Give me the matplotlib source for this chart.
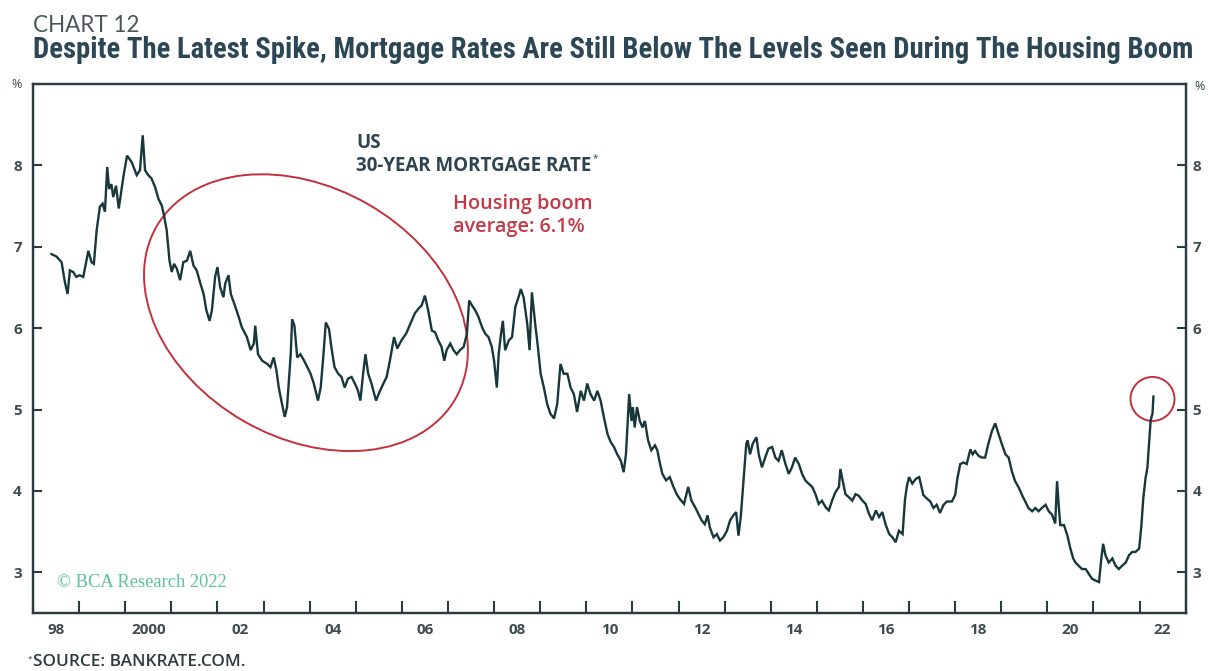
import matplotlib
matplotlib.use("Agg")
import matplotlib.pyplot as plt
import numpy as np
from matplotlib import font_manager
from matplotlib.patches import Ellipse
from matplotlib.transforms import ScaledTranslation

# US 30-year mortgage rate (%), decimal years
years_a = [1998.40, 1998.51, 1998.62, 1998.69, 1998.75, 1998.80, 1998.87, 1998.94, 1999.01, 1999.09,
           1999.16, 1999.20, 1999.27, 1999.32, 1999.38, 1999.45, 1999.51, 1999.56, 1999.61, 1999.65,
           1999.70, 1999.74, 1999.80, 1999.86, 1999.96, 2000.04, 2000.14, 2000.25, 2000.32, 2000.38,
           2000.43, 2000.50, 2000.57, 2000.65, 2000.72, 2000.79, 2000.84, 2000.90, 2000.96, 2001.01,
           2001.06, 2001.12, 2001.19, 2001.26, 2001.34, 2001.41, 2001.48, 2001.55, 2001.63, 2001.70,
           2001.76, 2001.83, 2001.88, 2001.95, 2002.00, 2002.06, 2002.13, 2002.17, 2002.24, 2002.29,
           2002.39, 2002.46, 2002.53, 2002.64, 2002.72, 2002.79, 2002.82, 2002.88, 2002.97, 2003.08,
           2003.15, 2003.22, 2003.28, 2003.33, 2003.40, 2003.46, 2003.51, 2003.59, 2003.62, 2003.67,
           2003.73, 2003.80, 2003.88, 2003.95, 2004.02, 2004.09, 2004.18, 2004.24, 2004.30, 2004.35,
           2004.42]
rates_a = [6.91, 6.88, 6.81, 6.57, 6.42, 6.71, 6.69, 6.63, 6.65, 6.63,
           6.83, 6.95, 6.81, 6.79, 7.20, 7.49, 7.53, 7.43, 7.98, 7.71,
           7.77, 7.61, 7.75, 7.47, 7.86, 8.12, 8.04, 7.88, 7.94, 8.37,
           7.94, 7.88, 7.84, 7.73, 7.59, 7.51, 7.39, 7.20, 6.83, 6.69,
           6.79, 6.73, 6.59, 6.81, 6.83, 6.95, 6.77, 6.71, 6.55, 6.42,
           6.22, 6.09, 6.22, 6.63, 6.75, 6.50, 6.38, 6.55, 6.65, 6.42,
           6.26, 6.14, 6.01, 5.89, 5.73, 5.81, 6.03, 5.68, 5.60, 5.56,
           5.52, 5.64, 5.48, 5.27, 5.07, 4.91, 5.03, 5.68, 6.11, 6.03,
           5.64, 5.68, 5.60, 5.52, 5.44, 5.32, 5.11, 5.27, 5.68, 6.07,
           5.99]

years_b = [2004.47, 2004.54, 2004.62, 2004.69, 2004.76, 2004.83, 2004.91, 2004.98, 2005.05, 2005.10,
           2005.16, 2005.21, 2005.27, 2005.34, 2005.44, 2005.51, 2005.60, 2005.67, 2005.74, 2005.83,
           2005.90, 2005.99, 2006.09, 2006.18, 2006.28, 2006.36, 2006.43, 2006.50, 2006.57, 2006.65,
           2006.72, 2006.79, 2006.86, 2006.92, 2006.97, 2007.05, 2007.12, 2007.19, 2007.26, 2007.34,
           2007.41, 2007.46, 2007.52, 2007.59, 2007.66, 2007.74, 2007.81, 2007.88, 2007.95, 2008.00,
           2008.06, 2008.10, 2008.15, 2008.19, 2008.24, 2008.32, 2008.39, 2008.46, 2008.53, 2008.58,
           2008.64, 2008.72, 2008.77, 2008.82, 2008.90, 2008.95, 2009.01, 2009.08, 2009.15, 2009.22,
           2009.30, 2009.37, 2009.44, 2009.51, 2009.59, 2009.66, 2009.73, 2009.80, 2009.88, 2009.95,
           2010.02, 2010.09, 2010.17, 2010.24, 2010.31, 2010.38, 2010.46, 2010.53, 2010.60, 2010.67,
           2010.75, 2010.81, 2010.86]
rates_b = [5.77, 5.52, 5.44, 5.40, 5.27, 5.38, 5.40, 5.32, 5.23, 5.11,
           5.44, 5.68, 5.44, 5.32, 5.11, 5.21, 5.32, 5.40, 5.60, 5.89,
           5.75, 5.85, 5.93, 6.05, 6.18, 6.24, 6.28, 6.40, 6.22, 5.97,
           5.95, 5.85, 5.77, 5.60, 5.73, 5.81, 5.73, 5.68, 5.73, 5.77,
           5.93, 6.34, 6.28, 6.22, 6.14, 6.01, 5.93, 5.89, 5.77, 5.60,
           5.27, 5.68, 5.93, 6.09, 5.73, 5.85, 5.89, 6.26, 6.38, 6.48,
           6.38, 6.05, 5.73, 6.44, 6.01, 5.77, 5.44, 5.27, 5.07, 4.95,
           4.89, 5.07, 5.56, 5.44, 5.44, 5.27, 5.19, 4.97, 5.23, 5.11,
           5.32, 5.19, 5.11, 5.23, 5.11, 4.91, 4.70, 4.60, 4.54, 4.45,
           4.37, 4.23, 4.45]

years_c = [2010.93, 2010.98, 2011.01, 2011.05, 2011.10, 2011.16, 2011.22, 2011.27, 2011.34, 2011.41,
           2011.49, 2011.54, 2011.60, 2011.65, 2011.73, 2011.81, 2011.89, 2011.96, 2012.03, 2012.12,
           2012.21, 2012.28, 2012.36, 2012.43, 2012.50, 2012.57, 2012.63, 2012.68, 2012.76, 2012.83,
           2012.90, 2012.97, 2013.05, 2013.12, 2013.19, 2013.25, 2013.30, 2013.35, 2013.41, 2013.47,
           2013.50, 2013.55, 2013.61, 2013.69, 2013.74, 2013.81, 2013.88, 2013.95, 2014.03, 2014.10,
           2014.17, 2014.24, 2014.32, 2014.39, 2014.46, 2014.53, 2014.61, 2014.68, 2014.75, 2014.82,
           2014.90, 2014.97, 2015.04, 2015.11, 2015.19, 2015.26, 2015.33, 2015.40, 2015.48, 2015.51,
           2015.56, 2015.62, 2015.70, 2015.77, 2015.84, 2015.91, 2015.99, 2016.06, 2016.13, 2016.20,
           2016.28, 2016.35, 2016.42, 2016.49, 2016.57, 2016.64, 2016.71, 2016.78, 2016.86, 2016.91,
           2016.95, 2017.00, 2017.07, 2017.15, 2017.22]
rates_c = [5.19, 4.86, 5.03, 4.78, 5.03, 4.86, 4.78, 4.86, 4.62, 4.50,
           4.56, 4.50, 4.33, 4.21, 4.13, 4.17, 4.05, 3.96, 3.90, 3.84,
           4.05, 3.88, 3.80, 3.72, 3.64, 3.59, 3.70, 3.55, 3.43, 3.47,
           3.39, 3.43, 3.51, 3.64, 3.70, 3.74, 3.45, 3.68, 4.13, 4.58,
           4.62, 4.45, 4.58, 4.66, 4.45, 4.29, 4.41, 4.52, 4.54, 4.41,
           4.37, 4.50, 4.33, 4.21, 4.29, 4.41, 4.33, 4.21, 4.13, 4.09,
           4.05, 3.96, 3.84, 3.88, 3.80, 3.76, 3.88, 3.98, 4.05, 4.27,
           4.13, 3.96, 3.92, 3.88, 3.96, 3.94, 3.88, 3.84, 3.72, 3.64,
           3.76, 3.68, 3.74, 3.59, 3.47, 3.43, 3.37, 3.51, 3.47, 3.88,
           4.05, 4.17, 4.09, 4.15, 4.17]

years_d = [2017.31, 2017.38, 2017.46, 2017.53, 2017.60, 2017.67, 2017.75, 2017.82, 2017.93, 2018.00,
           2018.05, 2018.11, 2018.18, 2018.25, 2018.33, 2018.38, 2018.43, 2018.51, 2018.58, 2018.65,
           2018.72, 2018.80, 2018.87, 2018.94, 2019.01, 2019.09, 2019.16, 2019.23, 2019.30, 2019.38,
           2019.45, 2019.52, 2019.59, 2019.67, 2019.74, 2019.81, 2019.88, 2019.96, 2020.03, 2020.10,
           2020.17, 2020.21, 2020.25, 2020.28, 2020.36, 2020.43, 2020.50, 2020.56, 2020.61, 2020.68,
           2020.75, 2020.83, 2020.90, 2020.97, 2021.04, 2021.12, 2021.17, 2021.21, 2021.26, 2021.33,
           2021.41, 2021.48, 2021.55, 2021.62, 2021.70, 2021.77, 2021.84, 2021.91, 2021.99, 2022.04,
           2022.08, 2022.13, 2022.17, 2022.20, 2022.24, 2022.28, 2022.30]
rates_d = [3.95, 3.91, 3.87, 3.79, 3.83, 3.73, 3.83, 3.87, 3.87, 3.95,
           4.16, 4.33, 4.35, 4.33, 4.51, 4.45, 4.49, 4.43, 4.41, 4.41,
           4.58, 4.74, 4.83, 4.70, 4.58, 4.45, 4.41, 4.24, 4.12, 4.04,
           3.95, 3.87, 3.79, 3.75, 3.79, 3.75, 3.79, 3.83, 3.75, 3.71,
           3.60, 4.12, 3.79, 3.58, 3.58, 3.46, 3.29, 3.17, 3.12, 3.08,
           3.04, 3.04, 2.98, 2.92, 2.90, 2.88, 3.17, 3.35, 3.21, 3.12,
           3.17, 3.08, 3.04, 3.08, 3.12, 3.21, 3.25, 3.25, 3.29, 3.58,
           3.91, 4.16, 4.29, 4.54, 4.87, 4.95, 5.16]

y_ticks = [3, 4, 5, 6, 7, 8]
year_ticks = list(range(1998, 2024))
label_years = [1998.5 + 2 * i for i in range(13)]
year_labels = ["98", "2000", "02", "04", "06", "08", "10", "12", "14", "16", "18", "20", "22"]

# highlighted areas: (centre year, centre rate)
boom_centre = (2003.92, 6.19)
spike_centre = (2022.28, 5.13)

INK = "#2c3b40"
LINE = "#17373a"
RED = "#c2313c"
LABEL = "#3e4b50"
W, H = 1210, 671

# pick a narrow face for the headline if one is installed
installed = {f.name for f in font_manager.fontManager.ttflist}
narrow = [n for n in ["Roboto Condensed", "Liberation Sans Narrow", "DejaVu Sans Condensed",
                      "Open Sans Condensed", "Noto Sans Display"] if n in installed]
title_family = narrow[:1] + ["DejaVu Sans"]

years = np.array(years_a + years_b + years_c + years_d)
rates = np.array(rates_a + rates_b + rates_c + rates_d)

fig = plt.figure(figsize=(W / 100, H / 100), dpi=100)
fig.patch.set_facecolor("white")
ax = fig.add_axes([33 / W, 1 - 613 / H, (1185.7 - 33) / W, (613 - 84) / H])

ax.plot(years, rates, color=LINE, lw=1.7, solid_joinstyle="miter")

ax.set_xlim(1998, 2023)
ax.set_ylim(2.5, 9.0)

for sp in ax.spines.values():
    sp.set_color(INK)
    sp.set_linewidth(1.6)

# x axis: yearly ticks pointing in, labels in the middle of the years
ax.set_xticks(year_ticks)
ax.set_xticklabels([])
ax.set_xticks(label_years, minor=True)
ax.set_xticklabels(year_labels, minor=True)
ax.tick_params(axis="x", which="major", direction="in", length=8.5, width=1.5, color=INK)
ax.tick_params(axis="x", which="minor", length=0, pad=7, labelsize=11, labelcolor=LABEL)

ax.set_yticks(y_ticks)
ax.tick_params(axis="y", direction="in", length=6.5, width=1.5, color=INK,
               pad=8, labelsize=11, labelcolor=LABEL, left=True, right=False)

ax2 = ax.twinx()
ax2.set_ylim(ax.get_ylim())
ax2.set_yticks(y_ticks)
ax2.tick_params(axis="y", direction="in", length=6.5, width=1.5, color=INK,
                pad=5, labelsize=11, labelcolor=LABEL)
for sp in ax2.spines.values():
    sp.set_color(INK)
    sp.set_linewidth(1.6)

for lab in ax.get_xticklabels(minor=True) + ax.get_yticklabels() + ax2.get_yticklabels():
    lab.set_family(["Open Sans", "DejaVu Sans"])
    lab.set_fontweight("bold")

# ellipses drawn in pixel size around a data point
trans_boom = fig.dpi_scale_trans + ScaledTranslation(boom_centre[0], boom_centre[1], ax.transData)
ax.add_patch(Ellipse((0, 0), 3.45, 2.50, angle=-30, transform=trans_boom,
                     fill=False, ec=RED, lw=1.4, clip_on=False))
trans_spike = fig.dpi_scale_trans + ScaledTranslation(spike_centre[0], spike_centre[1], ax.transData)
ax.add_patch(Ellipse((0, 0), 0.44, 0.44, transform=trans_spike,
                     fill=False, ec=RED, lw=1.4, clip_on=False))

renderer = fig.canvas.get_renderer()


def fit_width(txt, target_px):
    w = txt.get_window_extent(renderer).width
    txt.set_fontsize(txt.get_fontsize() * target_px / w)


def fx(px):
    return px / W


def fy(py):
    return 1 - py / H


t = fig.text(fx(33), fy(32), "CHART 12", fontsize=16, color="#4d575b",
             family=["Lato", "DejaVu Sans"], va="baseline")
fit_width(t, 107)

t = fig.text(fx(33), fy(58), "Despite The Latest Spike, Mortgage Rates Are Still Below The Levels Seen During The Housing Boom",
             fontsize=18, color="#2b4756", fontweight="bold", fontstretch="condensed",
             family=title_family, va="baseline")
fit_width(t, 1157)

fig.text(fx(22), fy(84), "%", fontsize=9, color=LABEL, ha="right", va="center",
         family=["Open Sans", "DejaVu Sans"])
fig.text(fx(1194), fy(86), "%", fontsize=9, color=LABEL, ha="left", va="center",
         family=["Open Sans", "DejaVu Sans"])

t = fig.text(fx(356), fy(171), "30-YEAR MORTGAGE RATE", fontsize=10, color="#2e4550",
             fontweight="bold", family=["Open Sans", "DejaVu Sans"], va="baseline")
fit_width(t, 236)
fig.text(fx(356), fy(148), "US", fontsize=t.get_fontsize(), color="#2e4550", fontweight="bold",
         family=["Open Sans", "DejaVu Sans"], va="baseline")
fig.text(fx(593), fy(161), "*", fontsize=7, color="#2e4550", family=["Open Sans", "DejaVu Sans"],
         va="baseline")

t = fig.text(fx(453), fy(209), "Housing boom", fontsize=12, color="#c23a48", fontweight="semibold",
             family=["Open Sans", "DejaVu Sans"], va="baseline")
fit_width(t, 140)
fig.text(fx(453), fy(232), "average: 6.1%", fontsize=t.get_fontsize(), color="#c23a48",
         fontweight="semibold", family=["Open Sans", "DejaVu Sans"], va="baseline")

t = fig.text(fx(57), fy(587), "\u00a9 BCA Research 2022", fontsize=11, color="#5cc2a2",
             family=["Liberation Serif", "DejaVu Serif"], va="baseline")
fit_width(t, 170)

fig.text(fx(28), fy(661), "*", fontsize=6, color="#2e3c40", family=["Open Sans", "DejaVu Sans"],
         va="baseline")
t = fig.text(fx(33), fy(666), "SOURCE: BANKRATE.COM.", fontsize=9, color="#2e3c40",
             fontweight="semibold", family=["Open Sans", "DejaVu Sans"], va="baseline")
fit_width(t, 212)

fig.savefig("out.png", dpi=100, facecolor="white")
